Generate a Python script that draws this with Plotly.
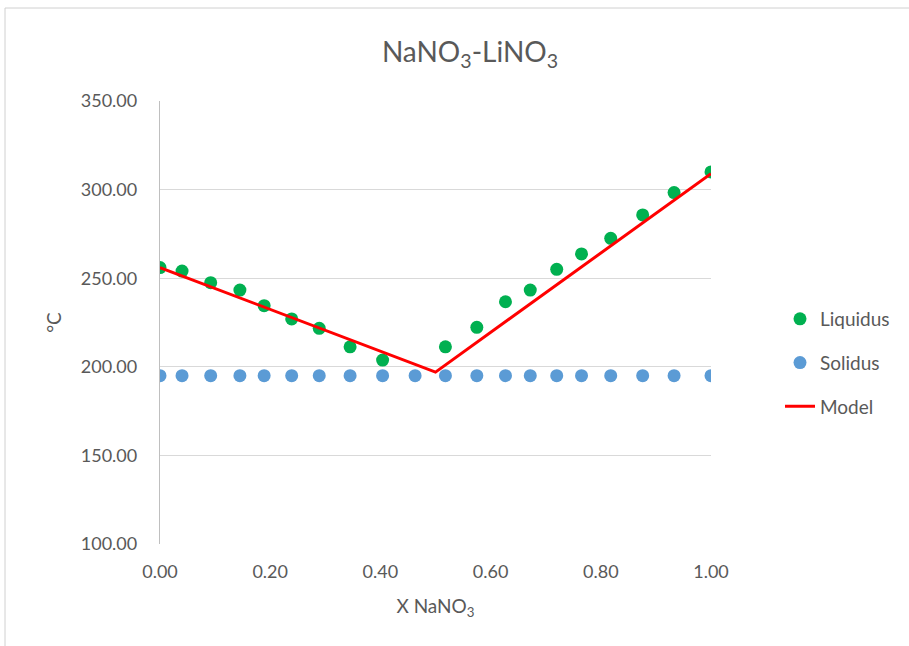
import plotly.graph_objects as go

# Composition (mole fraction NaNO3) and temperatures (°C)
liq_x = [0.0, 0.04, 0.092, 0.145, 0.189, 0.239, 0.289, 0.345, 0.404,
         0.518, 0.575, 0.627, 0.672, 0.72, 0.765, 0.818, 0.876, 0.933, 1.0]
liq_t = [256.0, 254.0, 247.5, 243.3, 234.5, 227.0, 221.7, 211.3, 203.8,
         211.3, 222.3, 236.7, 243.3, 255.0, 263.7, 272.5, 285.7, 298.3, 310.0]

sol_x = [0.0, 0.04, 0.092, 0.145, 0.189, 0.239, 0.289, 0.345, 0.404, 0.463,
         0.518, 0.575, 0.627, 0.672, 0.72, 0.765, 0.818, 0.876, 0.933, 1.0]
sol_t = [195.0] * len(sol_x)

model_x = [0.0, 0.5, 1.0]
model_t = [256.0, 197.0, 309.0]

x_ticks = [0.0, 0.2, 0.4, 0.6, 0.8, 1.0]
y_ticks = [100, 150, 200, 250, 300, 350]

FONT = "Lato, 'Open Sans', sans-serif"
GREY = "#595959"

fig = go.Figure()
fig.add_trace(go.Scatter(x=liq_x, y=liq_t, mode="markers", name="Liquidus",
                         legendgroup="a",
                         marker=dict(color="#00B050", size=13)))
fig.add_trace(go.Scatter(x=sol_x, y=sol_t, mode="markers", name="Solidus",
                         legendgroup="b",
                         marker=dict(color="#5B9BD5", size=13)))
fig.add_trace(go.Scatter(x=model_x, y=model_t, mode="lines", name="Model",
                         legendgroup="c",
                         line=dict(color="#FF0000", width=3)))

# Outer chart frame
fig.add_shape(type="rect", xref="paper", yref="paper",
              x0=(5 - 160) / 551, x1=(915 - 160) / 551,
              y0=(544 - 655) / 443, y1=(544 - 8) / 443,
              line=dict(color="#D0D0D0", width=1), layer="below")

fig.update_layout(
    width=909, height=646,
    margin=dict(l=160, r=198, t=101, b=102),
    paper_bgcolor="white", plot_bgcolor="white",
    font=dict(family=FONT, color=GREY, size=18),
    title=dict(text="NaNO<sub>3</sub>-LiNO<sub>3</sub>", x=470 / 909, xref="container",
               y=1 - 52 / 646, yref="container", xanchor="center", yanchor="middle",
               font=dict(size=28, color=GREY, family=FONT)),
    legend=dict(x=(780 - 160) / 551, y=(544 - 363) / 443, xanchor="left", yanchor="middle",
                tracegroupgap=16, font=dict(size=19, color=GREY),
                bgcolor="rgba(0,0,0,0)"),
    showlegend=True,
)

fig.update_xaxes(range=[0, 1], tickvals=x_ticks, tickformat=".2f",
                 showgrid=False, zeroline=False, showline=False,
                 ticks="", ticklabelstandoff=15,
                 tickfont=dict(size=18, color=GREY),
                 title=dict(text="X NaNO<sub>3</sub>", standoff=18,
                            font=dict(size=19, color=GREY)))
fig.update_yaxes(range=[100, 350], tickvals=y_ticks, tickformat=".2f",
                 showgrid=True, gridcolor="#D9D9D9", gridwidth=1.3,
                 zeroline=False, showline=True, linecolor="#BFBFBF", linewidth=1.3,
                 ticks="", ticklabelstandoff=18,
                 tickfont=dict(size=18, color=GREY),
                 title=dict(text="°C", standoff=14, font=dict(size=19, color=GREY)))

fig.write_html("out.html")
